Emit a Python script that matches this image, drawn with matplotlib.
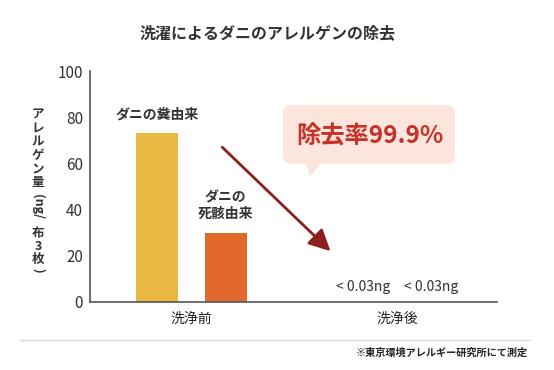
import matplotlib
matplotlib.use("Agg")
import matplotlib.pyplot as plt
from matplotlib.patches import FancyBboxPatch, Polygon

plt.rcParams['font.family'] = ['Noto Sans CJK JP', 'DejaVu Sans']

groups = ["洗浄前", "洗浄後"]
series = ["ダニの糞由来", "ダニの\n死骸由来"]
before = [73, 30]
after = [0, 0]
after_labels = ["< 0.03ng", "< 0.03ng"]
colors = ["#E9B843", "#E0692B"]

W, H = 554, 370
fig = plt.figure(figsize=(W / 100, H / 100), dpi=100)


def fx(px):
    return px / W


def fy(py):
    return 1 - py / H


ax = fig.add_axes([fx(90), fy(302), fx(407), (302 - 71) / H])

xs_before = [1, 2]
xs_after = [4, 5]
ax.bar(xs_before, before, width=0.61, color=colors)
ax.bar(xs_after, after, width=0.61, color=colors)

ax.set_xlim(0.02, 5.96)
ax.set_ylim(0, 100)
ax.set_yticks([0, 20, 40, 60, 80, 100])
ax.tick_params(axis='y', length=0, pad=5, labelsize=11, labelcolor="#333333")
ax.set_xticks([1.5, 4.5])
ax.set_xticklabels(groups)
ax.tick_params(axis='x', length=0, pad=7, labelsize=10, labelcolor="#222222")
for s in ["top", "right"]:
    ax.spines[s].set_visible(False)
for s in ["left", "bottom"]:
    ax.spines[s].set_color("#555555")
    ax.spines[s].set_linewidth(1.2)

# bar labels
ax.text(xs_before[0], before[0] + 5, series[0], ha="center", va="bottom",
        fontsize=10, color="#333333", fontweight="bold")
ax.text(xs_before[1], before[1] + 5, series[1], ha="center", va="bottom",
        fontsize=10, color="#333333", fontweight="bold", linespacing=1.2)
for x, lab in zip(xs_after, after_labels):
    ax.text(x, 3.5, lab, ha="center", va="bottom", fontsize=10, color="#333333")

# arrow
ax.annotate("", xy=(3.53, 22), xytext=(1.95, 67),
            arrowprops=dict(arrowstyle="-|>,head_length=1.3,head_width=0.65",
                            color="#8E1F1F", lw=2.0, shrinkA=0, shrinkB=0))

# callout
box = FancyBboxPatch((fx(283), fy(164)), fx(172), (164 - 105) / H,
                     boxstyle="round,pad=0,rounding_size=0.02",
                     transform=fig.transFigure, facecolor="#FCE5DB",
                     edgecolor="none", zorder=3)
fig.patches.append(box)
tail = Polygon([(fx(306), fy(163)), (fx(322), fy(163)), (fx(310), fy(176))],
               closed=True, transform=fig.transFigure, facecolor="#FCE5DB",
               edgecolor="none", zorder=3)
fig.patches.append(tail)
fig.text(fx(370), fy(136), "除去率99.9%", ha="center", va="center",
         fontsize=17.5, fontweight="bold", color="#C8302A", zorder=4)

# title
fig.text(fx(268), fy(33), "洗濯によるダニのアレルゲンの除去", ha="center", va="center",
         fontsize=11.5, fontweight="bold", color="#333333")

# vertical y label
lab_kw = dict(ha="center", va="center", fontsize=9, fontweight="bold", color="#333333")
chars = ["ア", "レ", "ル", "ゲ", "ン", "量"]
for i, c in enumerate(chars):
    fig.text(fx(38), fy(115 + i * 13.5), c, **lab_kw)
fig.text(fx(38), fy(207), "(ng/", rotation=-90, **lab_kw)
for i, c in enumerate(["布", "3", "枚"]):
    fig.text(fx(38), fy(233 + i * 13), c, **lab_kw)
fig.text(fx(38), fy(270), ")", rotation=-90, **lab_kw)

# separator and footnote
fig.add_artist(plt.Line2D([fx(20), fx(530)], [fy(340), fy(340)],
                          transform=fig.transFigure, color="#DDDDDD", lw=1))
fig.text(fx(528), fy(353), "※東京環境アレルギー研究所にて測定", ha="right", va="center",
         fontsize=7.3, fontweight="bold", color="#222222")

fig.savefig("out.png", dpi=100)
